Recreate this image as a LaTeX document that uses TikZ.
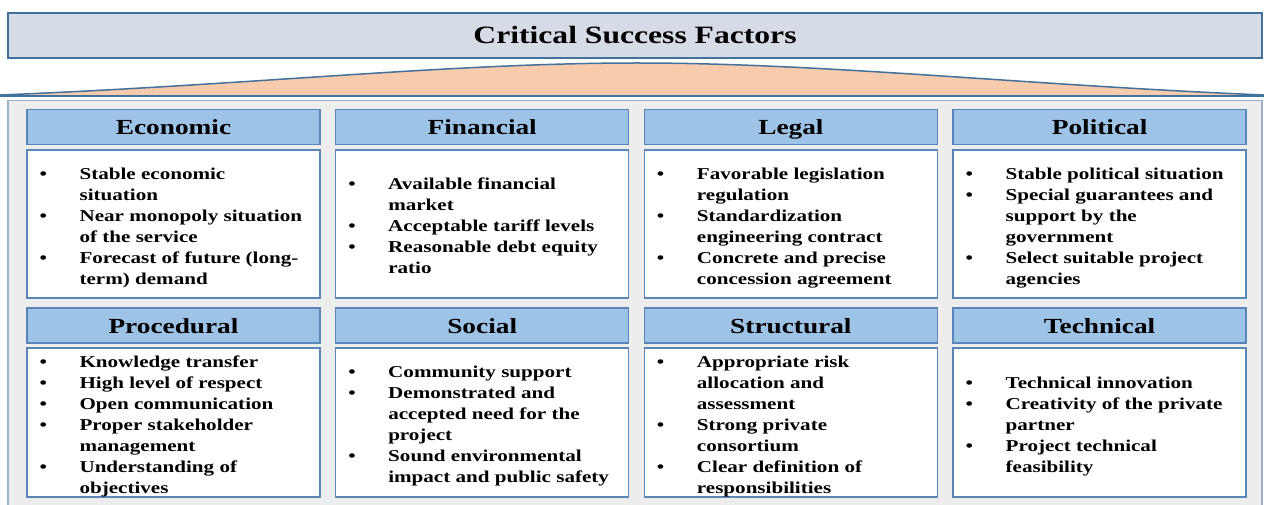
\documentclass[tikz,border=0pt]{standalone}
\usepackage{fontspec}
\setmainfont{Liberation Serif}[FakeStretch=1.27]
\definecolor{tfill}{HTML}{D6DCE5}
\definecolor{bline}{HTML}{41719C}
\definecolor{peach}{HTML}{F8CBAD}
\definecolor{cfill}{HTML}{EDEDED}
\definecolor{cline}{HTML}{9AB0CC}
\definecolor{hfill}{HTML}{9DC3E6}
\definecolor{hline}{HTML}{5A85B8}
\newcommand\bodyfont{\fontsize{16.6}{21}\selectfont\bfseries}
\tikzset{
 titlebox/.style={draw=bline, line width=1.6pt, fill=tfill, minimum width=1254pt, minimum height=45pt, inner sep=0pt, font=\fontsize{24.9}{28}\selectfont\bfseries},
 hdrbox/.style={draw=hline, line width=1.3pt, fill=hfill, minimum width=293pt, minimum height=35pt, inner sep=0pt, text height=18pt, text depth=2pt, font=\fontsize{21.5}{24}\selectfont\bfseries},
 bodybox/.style={draw=hline, line width=1.3pt, fill=white, minimum width=293pt, inner sep=0pt},
 itemtext/.style={anchor=west, inner sep=0pt, font=\bodyfont, xshift=13pt, yshift=-3.5pt},
}
\newcommand\itab[1]{\begin{tabular}{@{}p{40pt}@{}l@{}}#1\end{tabular}}
\begin{document}
\begin{tikzpicture}[x=1pt,y=-1pt]
\clip (0,0) rectangle (1264,505);
\fill[white] (0,0) rectangle (1264,505);
\node[titlebox] (title) at (635,35.5) {Critical Success Factors};
\fill[peach] (0,95) .. controls (250,85) and (450,63) .. (637,63) .. controls (824,63) and (1024,85) .. (1264,95) -- cycle;
\draw[bline, line width=1.5pt] (0,95) .. controls (250,85) and (450,63) .. (637,63) .. controls (824,63) and (1024,85) .. (1264,95);
\draw[bline, line width=1.6pt] (0,96) -- (1264,96);
\draw[cline, line width=1.2pt, fill=cfill] (8,100.5) rectangle (1262,530);
% row 1 headers
\node[hdrbox] (h1) at (173.5,127) {Economic};
\node[hdrbox] (h2) at (482.2,127) {Financial};
\node[hdrbox] (h3) at (790.9,127) {Legal};
\node[hdrbox] (h4) at (1099.6,127) {Political};
% row 1 bodies
\node[bodybox, minimum height=148pt] (b1) at (173.5,224) {};
\node[bodybox, minimum height=148pt] (b2) at (482.2,224) {};
\node[bodybox, minimum height=148pt] (b3) at (790.9,224) {};
\node[bodybox, minimum height=148pt] (b4) at (1099.6,224) {};
\node[itemtext] (t1) at (b1.west) {\itab{%
\textbullet & Stable economic\\ & situation\\
\textbullet & Near monopoly situation\\ & of the service\\
\textbullet & Forecast of future (long-\\ & term) demand}};
\node[itemtext] (t2) at (b2.west) {\itab{%
\textbullet & Available financial\\ & market\\
\textbullet & Acceptable tariff levels\\
\textbullet & Reasonable debt equity\\ & ratio}};
\node[itemtext] (t3) at (b3.west) {\itab{%
\textbullet & Favorable legislation\\ & regulation\\
\textbullet & Standardization\\ & engineering contract\\
\textbullet & Concrete and precise\\ & concession agreement}};
\node[itemtext] (t4) at (b4.west) {\itab{%
\textbullet & Stable political situation\\
\textbullet & Special guarantees and\\ & support by the\\ & government\\
\textbullet & Select suitable project\\ & agencies}};
% row 2 headers
\node[hdrbox] (h5) at (173.5,325.5) {Procedural};
\node[hdrbox] (h6) at (482.2,325.5) {Social};
\node[hdrbox] (h7) at (790.9,325.5) {Structural};
\node[hdrbox] (h8) at (1099.6,325.5) {Technical};
% row 2 bodies
\node[bodybox, minimum height=149pt] (b5) at (173.5,422.5) {};
\node[bodybox, minimum height=149pt] (b6) at (482.2,422.5) {};
\node[bodybox, minimum height=149pt] (b7) at (790.9,422.5) {};
\node[bodybox, minimum height=149pt] (b8) at (1099.6,422.5) {};
\node[itemtext] (t5) at (b5.west) {\itab{%
\textbullet & Knowledge transfer\\
\textbullet & High level of respect\\
\textbullet & Open communication\\
\textbullet & Proper stakeholder\\ & management\\
\textbullet & Understanding of\\ & objectives}};
\node[itemtext] (t6) at (b6.west) {\itab{%
\textbullet & Community support\\
\textbullet & Demonstrated and\\ & accepted need for the\\ & project\\
\textbullet & Sound environmental\\ & impact and public safety}};
\node[itemtext] (t7) at (b7.west) {\itab{%
\textbullet & Appropriate risk\\ & allocation and\\ & assessment\\
\textbullet & Strong private\\ & consortium\\
\textbullet & Clear definition of\\ & responsibilities}};
\node[itemtext] (t8) at (b8.west) {\itab{%
\textbullet & Technical innovation\\
\textbullet & Creativity of the private\\ & partner\\
\textbullet & Project technical\\ & feasibility}};
\end{tikzpicture}
\end{document}
